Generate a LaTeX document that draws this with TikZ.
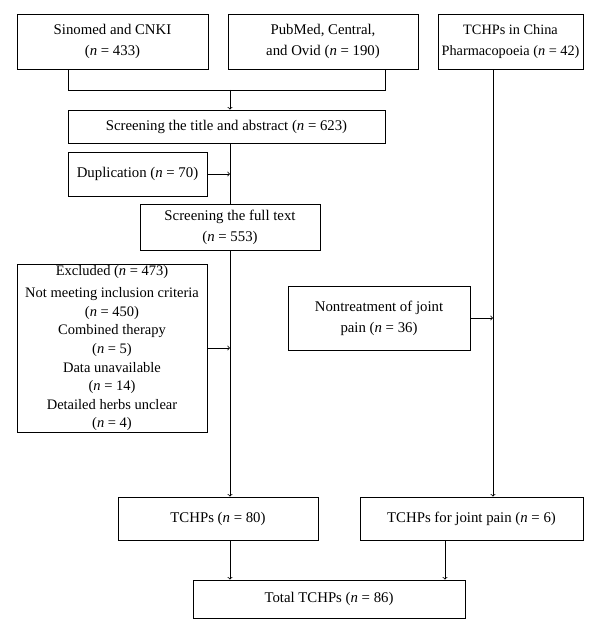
\documentclass[tikz,border=0pt]{standalone}
\usepackage{fontspec}
\setmainfont{Liberation Serif}
\begin{document}
\begin{tikzpicture}[x=1pt,y=-1pt,
 box/.style={draw,line width=0.8pt,align=center,font=\fontsize{14.8}{21}\selectfont,inner sep=0pt},
 ln/.style={line width=0.8pt},
 arr/.style={line width=0.8pt,->,>=to}]
\useasboundingbox (0,0) rectangle (600,620);
\node[box,minimum width=191,minimum height=55] (a) at (112.5,41.5) {Sinomed and CNKI\\(\textit{n} = 433)};
\node[box,minimum width=190,minimum height=55] (b) at (323,41.5) {PubMed, Central,\\and Ovid (\textit{n} = 190)};
\node[box,minimum width=145,minimum height=55,font=\fontsize{14.3}{21}\selectfont] (c) at (510.5,41.5) {TCHPs in China\\Pharmacopoeia (\textit{n} = 42)};
\node[box,minimum width=317,minimum height=33] (s) at (226.5,126.5) {Screening the title and abstract (\textit{n} = 623)};
\node[box,minimum width=139,minimum height=44] (d) at (137.5,174) {Duplication (\textit{n} = 70)};
\node[box,minimum width=180,minimum height=46] (f) at (230,227) {Screening the full text\\(\textit{n} = 553)};
\node[box,minimum width=190,minimum height=168,font=\fontsize{14.5}{18.6}\selectfont] (e) at (112,348) {Excluded (\textit{n} = 473)\\[4pt]Not meeting inclusion criteria\\(\textit{n} = 450)\\Combined therapy\\(\textit{n} = 5)\\Data unavailable\\(\textit{n} = 14)\\Detailed herbs unclear\\(\textit{n} = 4)};
\node[box,minimum width=182,minimum height=64] (nt) at (379,318) {Nontreatment of joint\\pain (\textit{n} = 36)};
\node[box,minimum width=200,minimum height=43] (t) at (218,518.5) {TCHPs (\textit{n} = 80)};
\node[box,minimum width=223,minimum height=43] (j) at (471.5,518.5) {TCHPs for joint pain (\textit{n} = 6)};
\node[box,minimum width=272,minimum height=38] (tot) at (329,599) {Total TCHPs (\textit{n} = 86)};
\coordinate (m) at (230,90);
\draw[ln] (a.south -| 68,0) |- (m);
\draw[ln] (b.south -| 385,0) |- (m);
\draw[arr] (m) -- (s.north -| m);
\draw[ln] (s.south -| 230,0) -- (f.north);
\draw[arr] (d.east) -- (230,174);
\draw[arr] (f.south) -- (t.north -| f.south);
\draw[arr] (e.east) -- (230,348);
\draw[arr] (c.south -| 493,0) -- (j.north -| 493,0);
\draw[arr] (nt.east) -- (493,318);
\draw[arr] (t.south -| 230,0) -- (tot.north -| 230,0);
\draw[arr] (j.south -| 445,0) -- (tot.north -| 445,0);
\end{tikzpicture}
\end{document}
